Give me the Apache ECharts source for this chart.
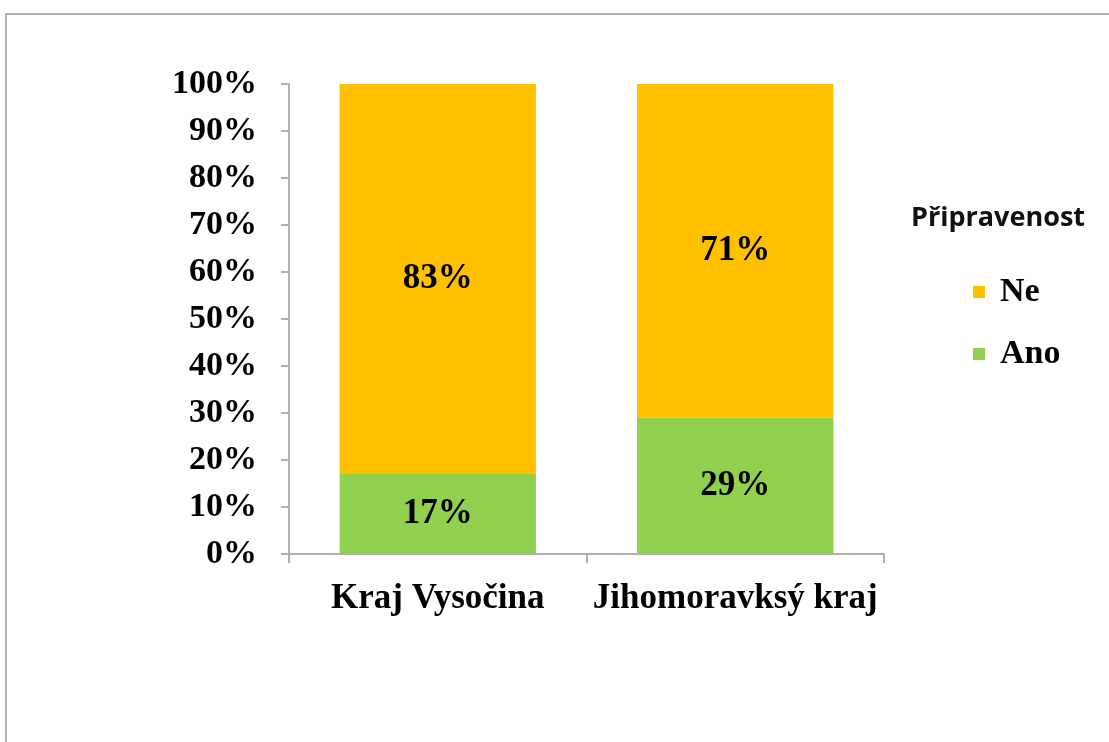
<!DOCTYPE html>
<html>
<head>
<meta charset="utf-8">
<script src="https://cdn.jsdelivr.net/npm/echarts@6/dist/echarts.min.js"></script>
<style>
  html, body { margin: 0; padding: 0; background: #fff; }
  #frame { position: absolute; left: 5px; top: 13px; width: 1200px; height: 800px;
           border-left: 2px solid #b3b3b3; border-top: 2px solid #b3b3b3; }
  #chart { position: absolute; left: 0; top: 0; width: 1109px; height: 742px; }
</style>
</head>
<body>
<div id="frame"></div>
<div id="chart"></div>
<script>
var categories = ['Kraj Vysočina', 'Jihomoravksý kraj'];
var ano = [17, 29];
var ne = [83, 71];
var legendTitle = 'Připravenost';

var serif = '"Liberation Serif", "DejaVu Serif", serif';

var chart = echarts.init(document.getElementById('chart'));
chart.setOption({
    animation: false,
    title: {
        text: legendTitle,
        left: 906,
        top: 200,
        textStyle: {
            fontFamily: '"Open Sans", "Noto Sans", sans-serif',
            fontWeight: 'bold',
            fontSize: 27,
            color: '#111'
        }
    },
    legend: {
        orient: 'vertical',
        left: 968,
        top: 270,
        itemWidth: 12,
        itemHeight: 12,
        itemGap: 28,
        icon: 'rect',
        data: ['Ne', 'Ano'],
        textStyle: {
            fontFamily: serif,
            fontWeight: 'bold',
            fontSize: 34,
            color: '#000',
            padding: [0, 0, 0, 10]
        }
    },
    grid: {
        left: 289,
        right: 225,
        top: 84,
        bottom: 188
    },
    xAxis: {
        type: 'category',
        data: categories,
        axisLine: { lineStyle: { color: '#b0b0b0', width: 2 } },
        axisTick: { show: true, length: 9, lineStyle: { color: '#b0b0b0', width: 2 } },
        axisLabel: {
            interval: 0,
            hideOverlap: false,
            margin: 27,
            fontFamily: serif,
            fontWeight: 'bold',
            fontSize: 35,
            color: '#000'
        }
    },
    yAxis: {
        type: 'value',
        min: 0,
        max: 100,
        interval: 10,
        splitLine: { show: false },
        axisLine: { show: true, lineStyle: { color: '#b0b0b0', width: 2 } },
        axisTick: { show: true, length: 8, lineStyle: { color: '#b0b0b0', width: 2 } },
        axisLabel: {
            margin: 32,
            formatter: '{value}%',
            fontFamily: serif,
            fontWeight: 'bold',
            fontSize: 34,
            color: '#000'
        }
    },
    series: [
        {
            name: 'Ano',
            type: 'bar',
            stack: 'total',
            barWidth: '66%',
            data: ano,
            itemStyle: { color: '#92d050' },
            label: {
                show: true,
                position: 'inside',
                formatter: '{c}%',
                fontFamily: serif,
                fontWeight: 'bold',
                fontSize: 35,
                color: '#000'
            }
        },
        {
            name: 'Ne',
            type: 'bar',
            stack: 'total',
            barWidth: '66%',
            data: ne,
            itemStyle: { color: '#ffc000' },
            label: {
                show: true,
                position: 'inside',
                formatter: '{c}%',
                fontFamily: serif,
                fontWeight: 'bold',
                fontSize: 35,
                color: '#000'
            }
        }
    ]
});
</script>
</body>
</html>
